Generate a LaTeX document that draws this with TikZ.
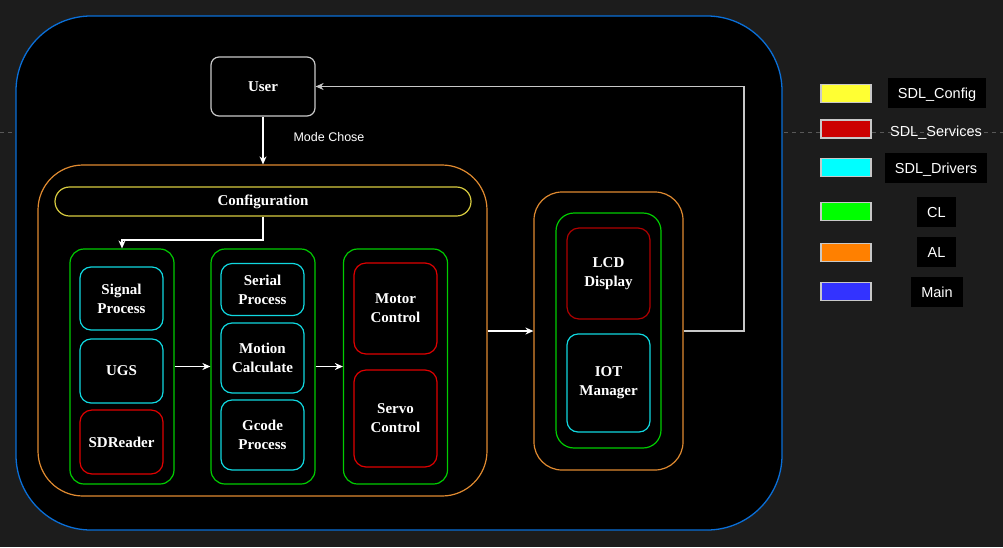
\documentclass[tikz,border=0pt]{standalone}
\usepackage{fontspec}
\setmainfont{Liberation Serif}
\setsansfont{Liberation Sans}
\usetikzlibrary{arrows.meta,calc}
\definecolor{bgc}{HTML}{1C1C1C}
\definecolor{mainblue}{HTML}{0A6FD8}
\definecolor{alorange}{HTML}{E08A30}
\definecolor{clgreen}{HTML}{00CC00}
\definecolor{cfgyellow}{HTML}{D8CC40}
\definecolor{drvcyan}{HTML}{10D8E0}
\definecolor{srvred}{HTML}{E00000}
\definecolor{dkred}{HTML}{B00000}
\definecolor{linegray}{HTML}{C8C8C8}
\definecolor{lgyellow}{HTML}{FFFF33}
\definecolor{lgred}{HTML}{CC0000}
\definecolor{lgcyan}{HTML}{00FFFF}
\definecolor{lggreen}{HTML}{00FF00}
\definecolor{lgorange}{HTML}{FF8000}
\definecolor{lgblue}{HTML}{3333FF}
\tikzset{
  box/.style={draw, fill=black, line width=1.2pt, inner sep=0pt, align=center,
     text=white, font=\fontsize{15}{19}\selectfont\bfseries},
  cybox/.style={box, draw=drvcyan, rounded corners=11pt, minimum width=83pt},
  rdbox/.style={box, draw=srvred, rounded corners=12pt, minimum width=83pt},
  grbox/.style={box, draw=clgreen, rounded corners=14pt, minimum width=104pt, minimum height=235pt},
  arr/.style={draw=white, line width=1.2pt, -{Stealth[length=8pt,width=7pt]}},
  swatch/.style={draw=linegray, line width=1.2pt, minimum width=50pt, minimum height=18pt, inner sep=0pt},
  lgtext/.style={fill=black, text=white, font=\sffamily\fontsize{14.5}{16}\selectfont, inner sep=0pt, text height=11pt, text depth=0pt}
}
\begin{document}
\begin{tikzpicture}[x=1pt,y=-1pt]
\fill[bgc] (0,0) rectangle (1003,547);
\useasboundingbox (0,0) rectangle (1003,547);
\draw[color=gray!60!bgc, line width=1pt, dash pattern=on 4pt off 4pt] (0,132) -- (1003,132);
% main
\node[draw=mainblue, fill=black, line width=1.3pt, rounded corners=75pt, minimum width=766pt, minimum height=514pt, inner sep=0pt] (main) at (399,273) {};
% user
\node[box, draw=linegray, rounded corners=8pt, minimum width=104pt, minimum height=59pt] (user) at (263,86.5) {User};
% AL left
\node[draw=alorange, fill=black, line width=1.2pt, rounded corners=45pt, minimum width=449pt, minimum height=331pt, inner sep=0pt] (al) at (262.5,330.5) {};
\node[box, draw=cfgyellow, rounded corners=14.5pt, minimum width=416pt, minimum height=29pt] (conf) at (263,201.5) {Configuration};
% green groups
\node[grbox] (g1) at (122,366.5) {};
\node[grbox] (g2) at (263,366.5) {};
\node[grbox] (g3) at (395.5,366.5) {};
\node[cybox, minimum height=63pt] (sig) at (121.5,298.5) {Signal\\Process};
\node[cybox, minimum height=64pt] (ugs) at (121.5,371) {UGS};
\node[rdbox, minimum height=64pt] (sdr) at (121.5,442) {SDReader};
\node[cybox, minimum height=52pt] (ser) at (262.5,289.5) {Serial\\Process};
\node[cybox, minimum height=70pt] (mot) at (262.5,358) {Motion\\Calculate};
\node[cybox, minimum height=70pt] (gco) at (262.5,435) {Gcode\\Process};
\node[rdbox, minimum height=91pt] (mc) at (395.5,308.5) {Motor\\Control};
\node[rdbox, minimum height=97pt] (sc) at (395.5,418.5) {Servo\\Control};
% AL right
\node[draw=alorange, fill=black, line width=1.2pt, rounded corners=28pt, minimum width=149pt, minimum height=278pt, inner sep=0pt] (al2) at (608.5,331) {};
\node[draw=clgreen, fill=black, line width=1.2pt, rounded corners=18pt, minimum width=105pt, minimum height=235pt, inner sep=0pt] (g4) at (608.5,330.5) {};
\node[box, draw=dkred, rounded corners=12pt, minimum width=83pt, minimum height=91pt] (lcd) at (608.5,273.5) {LCD\\Display};
\node[cybox, minimum height=98pt] (iot) at (608.5,383) {IOT\\Manager};
% connectors
\draw[arr] (user.south) -- (user.south |- al.north);
\node[fill=black, text=white, font=\sffamily\fontsize{12.5}{14}\selectfont, inner sep=1pt] (mode) at (329,137) {Mode Chose};
\coordinate (cfb) at (263,240);
\draw[arr] (conf.south) -- (cfb) -| (g1.north);
\draw[arr] (g1.east) -- (g2.west);
\draw[arr] (g2.east) -- (g3.west);
\draw[arr] (al.east |- al2.west) -- (al2.west);
\coordinate (fb) at (744,86.5);
\draw[draw=linegray, line width=1.2pt, -{Stealth[length=8pt,width=7pt]}] (al2.east) -| (fb) -- (user.east);
% legend
\node[swatch, fill=lgyellow] (s1) at (846,93.5) {};
\node[swatch, fill=lgred] (s2) at (846,129) {};
\node[swatch, fill=lgcyan] (s3) at (846,167.5) {};
\node[swatch, fill=lggreen] (s4) at (846,211.5) {};
\node[swatch, fill=lgorange] (s5) at (846,252.5) {};
\node[swatch, fill=lgblue] (s6) at (846,291.5) {};
\node[lgtext, minimum width=98pt, minimum height=30pt] (t1) at (937,93) {SDL\_Config};
\node[text=white, font=\sffamily\fontsize{14.5}{16}\selectfont, inner sep=0pt, text height=11pt, text depth=0pt] (t2) at (936,131) {SDL\_Services};
\node[lgtext, minimum width=102pt, minimum height=30pt] (t3) at (936,168) {SDL\_Drivers};
\node[lgtext, minimum width=39pt, minimum height=30pt] (t4) at (936.5,212) {CL};
\node[lgtext, minimum width=39pt, minimum height=30pt] (t5) at (936.5,252) {AL};
\node[lgtext, minimum width=52pt, minimum height=30pt] (t6) at (937,292) {Main};
\end{tikzpicture}
\end{document}
